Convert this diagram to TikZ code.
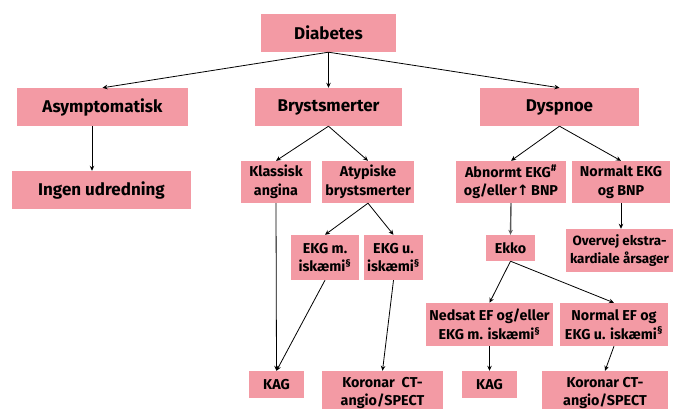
\documentclass[tikz,border=0pt]{standalone}
\usepackage{fontspec}
\setmainfont{Fira Sans}
\newfontfamily\arrowfont{DejaVu Sans}
\usetikzlibrary{arrows.meta}

\definecolor{boxpink}{RGB}{243, 154, 164}
\def\bigtext{\fontsize{17}{19}\selectfont\bfseries}
\def\smalltext{\fontsize{14.3}{18.5}\selectfont\bfseries}

\begin{document}
\begin{tikzpicture}[x=1pt, y=-1pt,
    box/.style={fill = boxpink, inner sep=0pt, align=center, font=\smalltext},
    topbox/.style={box, font=\bigtext, minimum height=38pt},
    arc/.style={draw, line width=0.8pt, -{Stealth[length=5pt, width=4.5pt]}},
    grayarc/.style={arc, black!65, line width=1.4pt}
    ]
    \useasboundingbox (0,0) rectangle (673,409);

    % Top levels
    \node[topbox, minimum width=135pt, at={(328.5,33)}, name=diab]{Diabetes};
    \node[topbox, minimum width=171pt, at={(102.5,107)}, name=asym]{Asymptomatisk};
    \node[topbox, minimum width=147pt, at={(328.5,107)}, name=bryst]{Brystsmerter};
    \node[topbox, minimum width=159pt, at={(559.5,107)}, name=dysp]{Dyspnoe};
    \node[topbox, minimum width=179pt, at={(101.5,190)}, name=ingen]{Ingen udredning};

    % Brystsmerter branch
    \node[box, minimum width=70pt, minimum height=42pt, at={(276,182)}, name=klass]{Klassisk\\angina};
    \node[box, minimum width=92pt, minimum height=42pt, at={(368,182)}, name=atyp]{Atypiske\\brystsmerter};
    \node[box, minimum width=68pt, minimum height=45pt, at={(325,257.5)}, name=ekgm]{EKG m.\\iskæmi\textsuperscript{§}};
    \node[box, minimum width=59pt, minimum height=45pt, at={(393.5,257.5)}, name=ekgu]{EKG u.\\iskæmi\textsuperscript{§}};
    \node[box, minimum width=55pt, minimum height=27pt, at={(276.5,384.5)}, name=kagA]{KAG};
    \node[box, minimum width=121pt, minimum height=44pt, at={(382.5,393)}, name=korA]{Koronar~ CT-\\angio/SPECT};

    % Dyspnoe branch
    \node[box, minimum width=110pt, minimum height=42pt, at={(511,182)}, name=abn]{Abnormt EKG\textsuperscript{\#}\\og/eller{\arrowfont↑}\,BNP};
    \node[box, minimum width=98pt, minimum height=42pt, at={(621,182)}, name=norm]{Normalt EKG\\og BNP};
    \node[box, minimum width=49pt, minimum height=26pt, at={(510.5,248)}, name=ekko]{Ekko};
    \node[box, font=\fontsize{13.4}{18}\selectfont\bfseries, minimum width=107pt, minimum height=43pt, at={(619.5,250.5)}, name=overvej]{Overvej ekstra-\\kardiale årsager};
    \node[box, minimum width=127pt, minimum height=43pt, at={(489.5,324.5)}, name=ned]{Nedsat EF og/eller\\EKG m. iskæmi\textsuperscript{§}};
    \node[box, minimum width=108pt, minimum height=43pt, at={(614,324.5)}, name=nef]{Normal EF og\\EKG u. iskæmi\textsuperscript{§}};
    \node[box, minimum width=55pt, minimum height=27pt, at={(489.5,384.5)}, name=kagB]{KAG};
    \node[box, minimum width=126pt, minimum height=44pt, at={(605,393)}, name=korB]{Koronar CT-\\angio/SPECT};

    % Define edges
    \foreach \from/\to in {diab/asym, diab/bryst, diab/dysp, bryst/klass, bryst/atyp,
        atyp/ekgm, atyp/ekgu, klass/kagA, ekgm/kagA, ekgu/korA,
        dysp/abn, dysp/norm, ekko/ned, ekko/nef, ned/kagB, nef/korB}{
        \draw[arc] (\from.south) -- (\to.north);
    }
    \draw[arc] ([xshift=-10.5pt]asym.south) -- ([xshift=-10.5pt]asym.south |- ingen.north);
    \draw[arc] (norm.south) -- (norm.south |- overvej.north);
    \draw[grayarc] (abn.south) -- (ekko.north);
\end{tikzpicture}
\end{document}
